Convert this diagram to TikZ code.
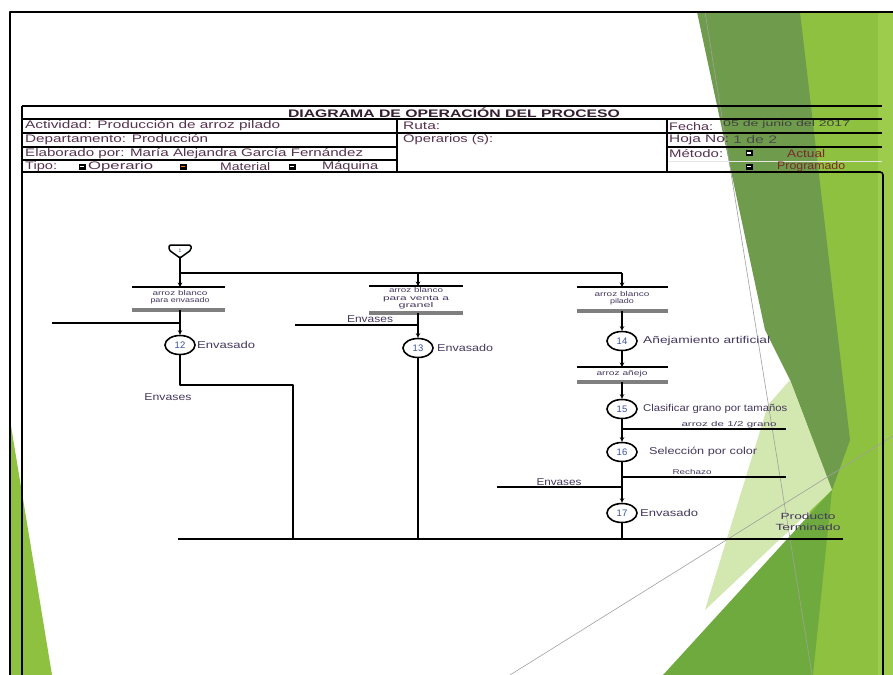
\documentclass[tikz,border=0pt]{standalone}
\usepackage{fontspec}
\setmainfont{Liberation Sans}
\usetikzlibrary{arrows.meta,shapes.geometric,calc}

\definecolor{gdark}{HTML}{6E9C4C}
\definecolor{gbright}{HTML}{8DC13F}
\definecolor{glite}{HTML}{9DCB4C}
\definecolor{gmid}{HTML}{6FAA3E}
\definecolor{gpale}{HTML}{D3E7B0}
\definecolor{gline}{HTML}{A0A0A0}
\definecolor{barg}{HTML}{7F7F7F}
\definecolor{lblc}{HTML}{44385F}
\definecolor{tblc}{HTML}{56324F}
\definecolor{numc}{HTML}{3A4FA0}
\definecolor{redc}{HTML}{7A2A2A}

% stretch a text horizontally to a given width, keeping its height
\newcommand{\fitto}[2]{\resizebox{#1}{\height}{#2}}

\begin{document}
\begin{tikzpicture}[x=1bp,y=-1bp,line join=round,
  frame/.style={line width=1.6bp},
  tline/.style={line width=1.3bp},
  flow/.style={line width=1.6bp},
  arr/.style={flow,-{Stealth[length=4.5bp,width=4.5bp]}},
  topbar/.style={line width=1.8bp},
  lowbar/.style={line width=3.2bp,draw=barg},
  op/.style={ellipse,draw,line width=1.6bp,minimum width=30bp,minimum height=19bp,
    inner sep=0pt,font=\fontsize{9.5}{9.5}\selectfont,text=numc},
  lbl/.style={inner sep=0pt,anchor=west,text=lblc,font=\fontsize{10}{10}\selectfont},
  small/.style={inner sep=0pt,text=lblc,align=center,font=\fontsize{7}{7.5}\selectfont},
  ttxt/.style={inner sep=0pt,anchor=west,text=tblc,font=\fontsize{11}{11}\selectfont},
  chk/.style={fill=black,minimum width=7bp,minimum height=6bp,inner sep=0pt,
    path picture={\fill[#1] ($(path picture bounding box.center)+(-2bp,-0.7bp)$)
      rectangle ($(path picture bounding box.center)+(2bp,0.7bp)$);}},
  chk/.default=white]

\useasboundingbox (0,0) rectangle (893,675);
\fill[white] (0,0) rectangle (893,675);

% decorative green facets on the right and lower left
\fill[gbright] (798,12) -- (893,12) -- (893,675) -- (813,675) -- cycle;
\fill[glite] (878,12) -- (893,12) -- (893,675) -- (878,675) -- cycle;
\fill[gdark] (697,12) -- (800,12) -- (850,440) -- (832,490) -- (790,380) -- (765,330) -- cycle;
\fill[gpale] (705,610) -- (768,405) -- (790,380) -- (832,490) -- cycle;
\fill[gmid] (663,675) -- (832,490) -- (813,675) -- cycle;
\fill[gbright] (10,420) -- (10,675) -- (52,675) -- cycle;
\draw[gline,line width=0.6bp] (705,12) -- (812,675);
\draw[gline,line width=0.6bp] (510,675) -- (893,436);

% outer page frame
\draw[frame] (10,675) -- (10,12) -- (893,12);

% header table
\draw[tline] (22,106) -- (882,106);
\draw[tline] (22,119) -- (882,119);
\draw[tline] (22,133) -- (882,133);
\draw[tline] (22,147) -- (397,147);
\draw[tline] (667,147) -- (882,147);
\draw[tline] (22,160) -- (397,160);
\draw[line width=1bp,draw=white!80!gray] (667,161) -- (882,161);
\draw[tline] (397,119) -- (397,172);
\draw[tline] (667,119) -- (667,172);

% drawing area frame
\draw[frame] (22,106) -- (22,675);
\draw[frame,rounded corners=3bp] (22,172) -- (883,172) -- (883,675);

\node[inner sep=0pt,text=tblc!60!black,font=\bfseries\fontsize{11}{11}\selectfont] (title) at (454,113)
  {\fitto{332bp}{DIAGRAMA DE OPERACIÓN DEL PROCESO}};
\node[ttxt] (act) at (25,126) {\fitto{255bp}{Actividad: Producción de arroz pilado}};
\node[ttxt] (dep) at (25,140) {\fitto{183bp}{Departamento: Producción}};
\node[ttxt] (ela) at (25,153.5) {\fitto{338bp}{Elaborado por: María Alejandra García Fernández}};
\node[ttxt] (tipo) at (25,166.5) {\fitto{32bp}{Tipo:}};
\node[chk] (c1) at (82,166.5) {};
\node[ttxt] (oper) at (88,166.5) {\fitto{65bp}{Operario}};
\node[chk=orange] (c2) at (183,166.5) {};
\node[ttxt] (mat) at (220,166.5) {\fitto{50bp}{Material}};
\node[chk] (c3) at (292,166.5) {};
\node[ttxt] (maq) at (322,166.5) {\fitto{56bp}{Máquina}};
\node[ttxt] (ruta) at (403,126) {\fitto{37bp}{Ruta:}};
\node[ttxt] (opers) at (403,140) {\fitto{90bp}{Operarios (s):}};
\node[ttxt] (fecha) at (669,127) {\fitto{44bp}{Fecha:}};
\node[inner sep=0pt,anchor=west,text=black!75,font=\fontsize{8.5}{9}\selectfont] (fval) at (723,124)
  {\fitto{127bp}{05 de junio del 2017}};
\node[ttxt] (hoja) at (669,140) {\fitto{60bp}{Hoja No:}};
\node[inner sep=0pt,anchor=west,text=black!70,font=\fontsize{11}{11}\selectfont] (hval) at (733,140)
  {\fitto{44bp}{1 de 2}};
\node[ttxt] (met) at (669,153.5) {\fitto{54bp}{Método:}};
\node[chk] (c4) at (749,153) {};
\node[ttxt,text=redc] (actual) at (787,153.5) {\fitto{38bp}{Actual}};
\node[chk] (c5) at (749,166.5) {};
\node[ttxt,text=redc] (prog) at (777,167) {\fitto{68bp}{Programado}};

% ---- process diagram ----
% storage symbol at the start
\draw[line width=1.5bp,rounded corners=1.5bp]
  (169,245) -- (191,245) -- (191,250) -- (180,258) -- (169,250) -- cycle;
\node[inner sep=0pt,text=numc,font=\fontsize{5}{5}\selectfont] (sym) at (180,250.5) {1};
\coordinate (s1) at (180,258);
\coordinate (j1) at (180,273);
\coordinate (j2) at (418,273);
\coordinate (j3) at (622,273);
\draw[flow] (s1) -- (j1) -- (j3);

% first branch
\coordinate (b1t) at (180,287);
\coordinate (b1l) at (180,310);
\draw[topbar] (132,287) -- (225,287);
\draw[lowbar] (132,310) -- (225,310);
\draw[arr] (j1) -- (b1t);
\node[small] (t1) at (180,297) {\fitto{55bp}{arroz blanco}\\\fitto{59bp}{para envasado}};
\coordinate (in1) at (52,323);
\coordinate (m1) at (180,323);
\node[op] (o1) at (180,345) {12};
\node[lbl] (l1) at (197,345) {\fitto{58bp}{Envasado}};
\draw[flow] (in1) -- (m1);
\draw[flow] (b1l) -- (m1);
\draw[arr] (m1) -- (o1);
\coordinate (e1) at (180,385);
\coordinate (e2) at (293,385);
\coordinate (k1) at (293,539);
\draw[flow] (o1) -- (e1) -- (e2) -- (k1);
\node[lbl,anchor=center] (env1) at (168,397) {\fitto{47bp}{Envases}};

% second branch
\coordinate (b2t) at (418,286);
\coordinate (b2l) at (418,313);
\draw[topbar] (369,286) -- (463,286);
\draw[lowbar] (369,313) -- (463,313);
\draw[arr] (j2) -- (b2t);
\node[small] (t2) at (416,298.5) {\fitto{54bp}{arroz blanco}\\\fitto{66bp}{para venta a}\\\fitto{35bp}{granel}};
\coordinate (in2) at (295,325);
\coordinate (m2) at (418,325);
\node[op] (o2) at (418,348) {13};
\node[lbl] (l2) at (437,348) {\fitto{56bp}{Envasado}};
\node[lbl,anchor=center] (env2) at (370,319.5) {\fitto{46bp}{Envases}};
\draw[flow] (in2) -- (m2);
\draw[flow] (b2l) -- (m2);
\draw[arr] (m2) -- (o2);
\coordinate (k2) at (418,539);
\draw[flow] (o2) -- (k2);

% third branch
\coordinate (b3t) at (622,287);
\coordinate (b3l) at (622,311);
\draw[topbar] (577,287) -- (668,287);
\draw[lowbar] (577,311) -- (668,311);
\draw[arr] (j3) -- (b3t);
\node[small] (t3) at (622,298) {\fitto{55bp}{arroz blanco}\\\fitto{24bp}{pilado}};
\node[op] (o4) at (622,341) {14};
\node[lbl] (l4) at (643,341) {\fitto{127bp}{Añejamiento artificial}};
\draw[arr] (b3l) -- (o4);
\coordinate (b4t) at (622,367);
\coordinate (b4l) at (622,382);
\draw[topbar] (577,367) -- (668,367);
\draw[lowbar] (577,382) -- (668,382);
\draw[arr] (o4) -- (b4t);
\node[small] (t4) at (622,374) {\fitto{51bp}{arroz añejo}};
\node[op] (o5) at (622,409) {15};
\node[lbl] (l5) at (643,409) {\fitto{144bp}{Clasificar grano por tamaños}};
\draw[arr] (b4l) -- (o5);
\coordinate (r1) at (622,429);
\coordinate (r1e) at (786,429);
\node[small] (t5) at (729,424.5) {\fitto{95bp}{arroz de 1/2 grano}};
\node[op] (o6) at (622,452) {16};
\node[lbl] (l6) at (649,452) {\fitto{108bp}{Selección por color}};
\draw[flow] (o5) -- (r1);
\draw[flow] (r1) -- (r1e);
\draw[arr] (r1) -- (o6);
\coordinate (r2) at (622,477);
\coordinate (r2e) at (786,477);
\node[small] (t6) at (692,472) {\fitto{39bp}{Rechazo}};
\coordinate (m3) at (622,487);
\coordinate (in3) at (497,487);
\node[lbl,anchor=center] (env3) at (559,482) {\fitto{45bp}{Envases}};
\node[op] (o7) at (622,513) {17};
\node[lbl] (l7) at (640,513) {\fitto{58bp}{Envasado}};
\draw[flow] (o6) -- (r2) -- (m3);
\draw[flow] (r2) -- (r2e);
\draw[flow] (in3) -- (m3);
\draw[arr] (m3) -- (o7);
\coordinate (k3) at (622,539);
\draw[flow] (o7) -- (k3);

% collecting line and finished product
\coordinate (bl) at (178,539);
\coordinate (br) at (843,539);
\draw[flow] (bl) -- (br);
\node[lbl,anchor=center,align=center,font=\fontsize{9}{11.5}\selectfont] (prod) at (808,522)
  {\fitto{55bp}{Producto}\\\fitto{65bp}{Terminado}};
\end{tikzpicture}
\end{document}
